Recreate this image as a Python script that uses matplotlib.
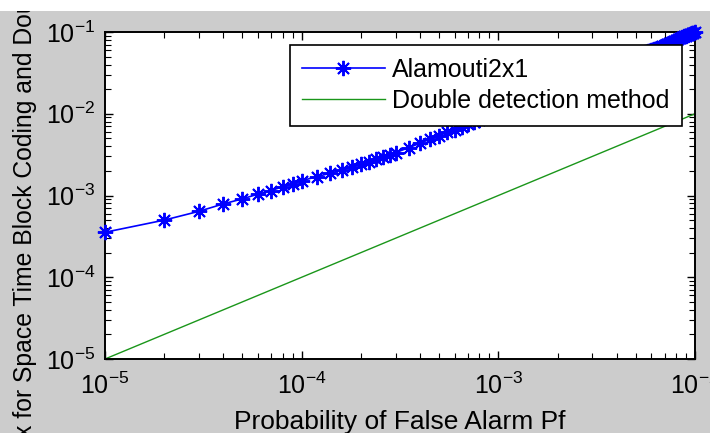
import numpy as np
import matplotlib
matplotlib.use("Agg")
import matplotlib.pyplot as plt
from matplotlib.patches import Rectangle

plt.rcParams['font.family'] = ['Liberation Sans', 'DejaVu Sans']
plt.rcParams['mathtext.fontset'] = 'custom'
plt.rcParams['mathtext.rm'] = 'Liberation Sans'
plt.rcParams['mathtext.default'] = 'regular'

# Alamouti 2x1 curve, Pf in units of 1e-5 and Pd in units of 1e-3
pf_alamouti_e5 = [1, 2, 3, 4, 5, 6, 7, 8, 9, 10,
                  12, 14, 16, 18, 20, 22, 24, 26, 28, 30,
                  35, 40, 45, 50, 55, 60, 65, 70, 75, 80, 85, 90, 95, 100,
                  120, 140, 160, 180, 200, 220, 240, 260, 280, 300,
                  320, 340, 360, 380, 400, 420, 440, 460, 480, 500,
                  520, 540, 560, 580, 600, 620, 640, 660, 680, 700,
                  720, 740, 760, 780, 800, 820, 840, 860, 880, 900,
                  920, 940, 960, 980, 1000]
pd_alamouti_e3 = [0.355, 0.50, 0.64, 0.79, 0.91, 1.04, 1.15, 1.28, 1.40, 1.52,
                  1.70, 1.88, 2.06, 2.24, 2.42, 2.60, 2.78, 2.96, 3.14, 3.34,
                  3.85, 4.35, 4.90, 5.40, 5.90, 6.40, 6.95, 7.45, 8.00, 8.50, 9.00, 9.55, 10.1, 10.6,
                  12.6, 14.6, 16.6, 18.6, 20.6, 22.5, 24.5, 26.5, 28.5, 30.5,
                  32.5, 34.5, 36.5, 38.5, 40.5, 42.4, 44.4, 46.4, 48.4, 50.4,
                  52.4, 54.4, 56.4, 58.4, 60.4, 62.3, 64.3, 66.3, 68.3, 70.3,
                  72.3, 74.3, 76.3, 78.3, 80.3, 82.2, 84.2, 86.2, 88.2, 90.2,
                  92.2, 94.2, 96.2, 98.2, 100.0]

# Double detection method (straight line Pd = Pf)
pf_double = [1e-5, 1e-4, 1e-3, 1e-2]
pd_double = [1e-5, 1e-4, 1e-3, 1e-2]

labels = ["Alamouti2x1", "Double detection method"]

pf_a = np.array(pf_alamouti_e5) * 1e-5
pd_a = np.array(pd_alamouti_e3) * 1e-3

fig = plt.figure(figsize=(7.1, 4.33), dpi=100, facecolor='#cccccc')
ax = fig.add_axes([105/710, (433-359)/433, 590/710, 327/433])

ax.loglog(pf_a, pd_a, color='#0000ff', lw=1.2, marker=(8, 2, 0), ms=11, mew=1.4,
          clip_on=False, label=labels[0], zorder=3)
ax.loglog(pf_double, pd_double, color='#1a961a', lw=1.0, label=labels[1], zorder=2)

ax.set_xlim(1e-5, 1e-2)
ax.set_ylim(1e-5, 1e-1)

for s in ax.spines.values():
    s.set_linewidth(1.4)
ax.tick_params(which='both', direction='in', top=True, right=True, labelsize=18, colors='black')
ax.tick_params(which='major', length=6, width=1.0)
ax.tick_params(which='minor', length=4, width=0.8)
ax.tick_params(axis='x', which='major', pad=10)
ax.tick_params(axis='y', which='major', pad=7)

ax.set_xlabel("Probability of False Alarm Pf", fontsize=19, labelpad=8)

leg = ax.legend(loc='upper right', bbox_to_anchor=(0.978, 0.960), borderaxespad=0,
                fancybox=False, edgecolor='black', fontsize=18, numpoints=1,
                handlelength=3.3, handletextpad=0.3, borderpad=0.5, labelspacing=0.3,
                framealpha=1)
leg.get_frame().set_linewidth(1.2)

# y label, cut off by the edges of the screenshot
fig.text(32/710, -4/433, "x for Space Time Block Coding and Double detection method",
         rotation=90, rotation_mode='anchor', ha='left', va='baseline', fontsize=17.8)

# white strip along the top of the screenshot
fig.add_artist(Rectangle((0, 1 - 11/433), 1, 11/433, transform=fig.transFigure,
                         facecolor='white', edgecolor='none', zorder=10))

fig.savefig("out.png", dpi=100, facecolor=fig.get_facecolor())
